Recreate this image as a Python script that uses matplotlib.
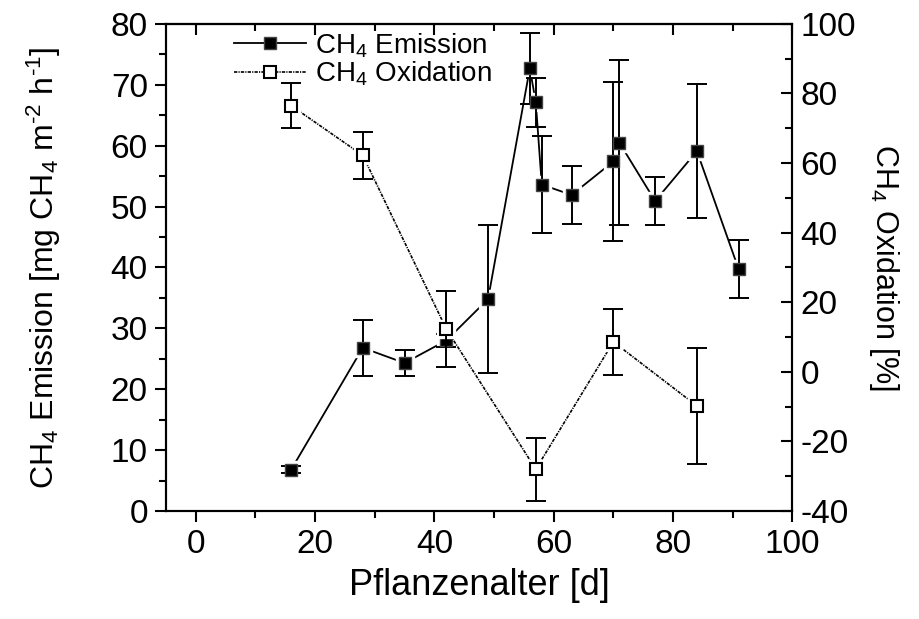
import matplotlib
matplotlib.use("Agg")
import matplotlib.pyplot as plt

plt.rcParams['font.family'] = ['Liberation Sans', 'DejaVu Sans']
plt.rcParams['mathtext.fontset'] = 'custom'
plt.rcParams['mathtext.rm'] = 'Liberation Sans'
plt.rcParams['mathtext.it'] = 'Liberation Sans:italic'
plt.rcParams['axes.linewidth'] = 1.5
plt.rcParams['axes.unicode_minus'] = False

# === Data ===
em_days = [16, 28, 35, 42, 49, 56, 57, 58, 63, 70, 71, 77, 84, 91]
em_values = [6.8, 26.8, 24.3, 28.0, 34.8, 72.7, 67.1, 53.6, 51.9, 57.4, 60.5, 50.9, 59.1, 39.7]
em_err = [0.6, 4.6, 2.1, 1.0, 12.1, 5.8, 4.0, 8.0, 4.8, 13.0, 13.5, 3.9, 11.0, 4.8]

ox_days = [16, 28, 42, 57, 70, 84]
ox_values = [76.5, 62.2, 12.3, -28.0, 8.6, -9.8]
ox_err = [6.5, 6.7, 11.0, 9.1, 9.4, 16.6]

# === Figure ===
fig = plt.figure(figsize=(9.19, 6.19), dpi=100)
ax = fig.add_axes([0.1805, 0.1745, 0.6817, 0.787])
ax2 = ax.twinx()

# emission (left axis)
ax.plot(em_days, em_values, color='black', lw=1.3, zorder=1)
ax.plot(em_days, em_values, ls='none', marker='s', ms=13, mfc='white', mec='white', zorder=2)
ax.errorbar(em_days, em_values, yerr=em_err, fmt='none', ecolor='black',
            elinewidth=1.4, capsize=7, capthick=1.4, zorder=3)
ax.plot(em_days, em_values, ls='none', marker='s', ms=8.5, mfc='black', mec='#444444',
        mew=1.0, zorder=4)

# oxidation (right axis)
ox_ls = (0, (2.0, 0.7, 0.7, 0.7))
ax2.plot(ox_days, ox_values, color='black', lw=1.2, ls=ox_ls, zorder=1)
ax2.plot(ox_days, ox_values, ls='none', marker='s', ms=13, mfc='white', mec='white', zorder=2)
ax2.errorbar(ox_days, ox_values, yerr=ox_err, fmt='none', ecolor='black',
             elinewidth=1.4, capsize=7, capthick=1.4, zorder=3)
ax2.plot(ox_days, ox_values, ls='none', marker='s', ms=8.5, mfc='white', mec='black',
         mew=1.5, zorder=4)

# legend handles
h1, = ax.plot([], [], color='black', lw=1.3, marker='s', ms=8.5, mfc='black', mec='#444444')
h2, = ax.plot([], [], color='black', lw=1.2, ls=ox_ls, marker='s', ms=8.5, mfc='white',
              mec='black', mew=1.5)
ax.legend([h1, h2], ['CH$_4$ Emission', 'CH$_4$ Oxidation'], loc='upper left',
          bbox_to_anchor=(0.078, 1.025), frameon=False, fontsize=20, numpoints=1,
          handlelength=2.6, handletextpad=0.3, labelspacing=0.0, borderaxespad=0.3)

# axes limits and ticks
ax.set_xlim(-5, 100)
ax.set_ylim(0, 80)
ax2.set_ylim(-40, 100)
ax.set_xticks(range(0, 101, 20))
ax.set_xticks(range(0, 101, 10), minor=True)
ax.set_yticks(range(0, 81, 10))
ax.set_yticks(range(0, 81, 5), minor=True)
ax2.set_yticks(range(-40, 101, 20))
ax2.set_yticks(range(-40, 101, 10), minor=True)

ax.tick_params(which='major', direction='out', length=8, width=1.5, labelsize=24, pad=5)
ax.tick_params(which='minor', direction='out', length=5, width=1.5)
ax2.tick_params(which='major', direction='in', length=8, width=1.5, labelsize=24, pad=6)
ax2.tick_params(which='minor', direction='in', length=5, width=1.5)

top = ax.secondary_xaxis('top')
top.set_xticks(range(0, 101, 20))
top.set_xticks(range(0, 101, 10), minor=True)
top.tick_params(which='major', direction='in', length=8, width=1.5, labeltop=False)
top.tick_params(which='minor', direction='in', length=5, width=1.5)

ax.set_xlabel('Pflanzenalter [d]', fontsize=26, labelpad=6)
ax.set_ylabel('CH$_4$ Emission [mg CH$_4$ m$^{\u20102}$ h$^{\u20101}$]', fontsize=23, labelpad=34)
ax2.set_ylabel('CH$_4$ Oxidation [%]', fontsize=22, rotation=270, labelpad=32)

fig.savefig('out.png', dpi=100)
